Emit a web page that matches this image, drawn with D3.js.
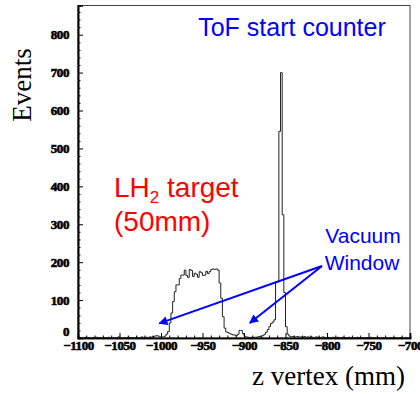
<!DOCTYPE html>
<html>
<head>
<meta charset="utf-8">
<script src="https://cdn.jsdelivr.net/npm/d3@7"></script>
<style>
  html, body { margin: 0; padding: 0; background: #fff; }
  svg { display: block; }
</style>
</head>
<body>
<svg id="chart" width="420" height="394"></svg>
<script>
// z-vertex histogram: 2 mm bins from -1100 mm to -700 mm
const binStart = -1100;
const binWidth = 2;
const counts = [
  // -1100 .. -1080
  0, 1, 0, 0, 2, 0, 1, 0, 0, 1,
  // -1080 .. -1060
  0, 2, 0, 1, 0, 0, 1, 0, 2, 0,
  // -1060 .. -1040
  1, 0, 1, 0, 3, 1, 0, 0, 1, 0,
  // -1040 .. -1020
  2, 0, 1, 1, 0, 2, 0, 1, 3, 1,
  // -1020 .. -1000
  1, 2, 0, 3, 2, 4, 5, 6, 5, 3,
  // -1000 .. -980
  2, 3, 5, 10, 17, 40, 66, 96, 122, 140,
  // -980 .. -960
  140, 157, 166, 166, 179, 165, 160, 181, 178, 162,
  // -960 .. -940
  171, 168, 160, 175, 172, 165, 166, 176, 170, 175,
  // -940 .. -920
  181, 182, 181, 182, 179, 145, 105, 56, 26, 16,
  // -920 .. -900
  14, 12, 10, 8, 8, 6, 10, 20, 20, 12,
  // -900 .. -880
  5, 3, 2, 1, 2, 1, 2, 2, 3, 4,
  // -880 .. -860
  5, 6, 10, 15, 22, 30, 38, 42, 48, 148,
  // -860 .. -840
  148, 545, 700, 325, 120, 30, 10, 5, 3, 4,
  // -840 .. -820
  2, 3, 4, 2, 3, 1, 4, 2, 3, 2,
  // -820 .. -800
  3, 2, 1, 3, 2, 2, 1, 3, 2, 1,
  // -800 .. -780
  2, 1, 0, 2, 1, 1, 2, 0, 1, 2,
  // -780 .. -760
  1, 0, 1, 2, 0, 1, 1, 0, 2, 1,
  // -760 .. -740
  0, 1, 0, 1, 1, 0, 2, 0, 1, 0,
  // -740 .. -720
  1, 0, 0, 1, 0, 1, 0, 0, 1, 0,
  // -720 .. -700
  0, 1, 0, 0, 1, 0, 0, 1, 0, 0
];

const xMajorTicks = [-1100, -1050, -1000, -950, -900, -850, -800, -750, -700];
const yMajorTicks = [0, 100, 200, 300, 400, 500, 600, 700, 800];
const xDomain = [-1100, -700];
const yDomain = [0, 877];

const svg = d3.select("#chart");
const plot = { left: 78, right: 410, top: 5.5, bottom: 338 };

const x = d3.scaleLinear().domain(xDomain).range([plot.left, plot.right]);
const y = d3.scaleLinear().domain(yDomain).range([plot.bottom, plot.top]);

// frame
svg.append("rect")
  .attr("x", plot.left).attr("y", plot.top)
  .attr("width", plot.right - plot.left).attr("height", plot.bottom - plot.top)
  .attr("fill", "none").attr("stroke", "#444").attr("stroke-width", 1);

// histogram outline
const pts = counts.map((c, i) => [binStart + i * binWidth, c]);
pts.unshift([binStart, 0]);
pts.push([binStart + counts.length * binWidth, counts[counts.length - 1]]);
pts.push([binStart + counts.length * binWidth, 0]);
const line = d3.line().x(d => x(d[0])).y(d => y(d[1])).curve(d3.curveStepAfter);
svg.append("path")
  .attr("d", line(pts))
  .attr("fill", "none").attr("stroke", "#222").attr("stroke-width", 1);

const tickFont = "bold 13px 'Liberation Serif', 'DejaVu Serif', serif";
function styleTickText(g) {
  g.selectAll("text")
    .style("font", tickFont)
    .attr("fill", "#000")
    .attr("stroke", "#000")
    .attr("stroke-width", 0.6)
    .attr("letter-spacing", "-0.4");
}

// x axis: major + minor ticks pointing into the plot
const xMinor = d3.range(-1100, -699, 10).filter(v => v % 50 !== 0);
const gxMinor = svg.append("g").attr("transform", `translate(0,${plot.bottom})`)
  .call(d3.axisBottom(x).tickValues(xMinor).tickSize(-2.5).tickFormat(""));
const gx = svg.append("g").attr("transform", `translate(0,${plot.bottom})`)
  .call(d3.axisBottom(x).tickValues(xMajorTicks).tickSize(-5).tickPadding(3).tickFormat(d3.format("d")));
styleTickText(gx);

// y axis
const yMinor = d3.range(0, 877, 20).filter(v => v % 100 !== 0);
const gyMinor = svg.append("g").attr("transform", `translate(${plot.left},0)`)
  .call(d3.axisLeft(y).tickValues(yMinor).tickSize(-2.5).tickFormat(""));
const gy = svg.append("g").attr("transform", `translate(${plot.left},0)`)
  .call(d3.axisLeft(y).tickValues(yMajorTicks).tickSize(-5).tickPadding(9).tickFormat(d3.format("d")));
styleTickText(gy);
// the zero label sits just above the x labels
gy.selectAll(".tick").filter(d => d === 0).select("text").attr("dy", "-0.2em");

[gxMinor, gx, gyMinor, gy].forEach(g => {
  g.select(".domain").attr("stroke", "#000").attr("stroke-width", 1.6);
  g.selectAll(".tick line").attr("stroke", "#000").attr("stroke-width", 1);
});

// axis titles
svg.append("text")
  .attr("x", 405).attr("y", 385)
  .attr("text-anchor", "end")
  .style("font", "27px 'Liberation Serif', 'Times New Roman', serif")
  .text("z vertex (mm)");

svg.append("text")
  .attr("transform", "translate(31,85) rotate(-90)")
  .attr("text-anchor", "middle")
  .style("font", "27px 'Liberation Serif', 'Times New Roman', serif")
  .text("Events");

// annotations
const sans = "'Liberation Sans', Arial, sans-serif";
svg.append("text")
  .attr("x", 292).attr("y", 36)
  .attr("text-anchor", "middle")
  .attr("fill", "#0000ff")
  .style("font", `25px ${sans}`)
  .text("ToF start counter");

const lh = svg.append("text")
  .attr("x", 114).attr("y", 197)
  .attr("fill", "#ff0000")
  .style("font", `28px ${sans}`);
lh.append("tspan").text("LH");
lh.append("tspan").attr("dy", 6).style("font-size", "17px").text("2");
lh.append("tspan").attr("dy", -6).text(" target");

svg.append("text")
  .attr("x", 114).attr("y", 231)
  .attr("fill", "#ff0000")
  .style("font", `28px ${sans}`)
  .text("(50mm)");

svg.append("text")
  .attr("x", 363).attr("y", 243)
  .attr("text-anchor", "middle")
  .attr("fill", "#0000ff")
  .style("font", `21px ${sans}`)
  .text("Vacuum");
svg.append("text")
  .attr("x", 362).attr("y", 270)
  .attr("text-anchor", "middle")
  .attr("fill", "#0000ff")
  .style("font", `21px ${sans}`)
  .text("Window");

// arrows pointing at the window positions
svg.append("defs").append("marker")
  .attr("id", "head")
  .attr("viewBox", "0 0 10 10")
  .attr("refX", 9).attr("refY", 5)
  .attr("markerWidth", 11).attr("markerHeight", 9)
  .attr("markerUnits", "userSpaceOnUse")
  .attr("orient", "auto")
  .append("path").attr("d", "M0,0 L10,5 L0,10 Z").attr("fill", "#0000ff");

const arrowFrom = [322, 266];
const windows = [[-1002, 7], [-893, 8]];
windows.forEach(([zx, ev]) => {
  svg.append("line")
    .attr("x1", arrowFrom[0]).attr("y1", arrowFrom[1])
    .attr("x2", x(zx)).attr("y2", y(ev) - 12)
    .attr("stroke", "#0000ff").attr("stroke-width", 2)
    .attr("marker-end", "url(#head)");
});
</script>
</body>
</html>
